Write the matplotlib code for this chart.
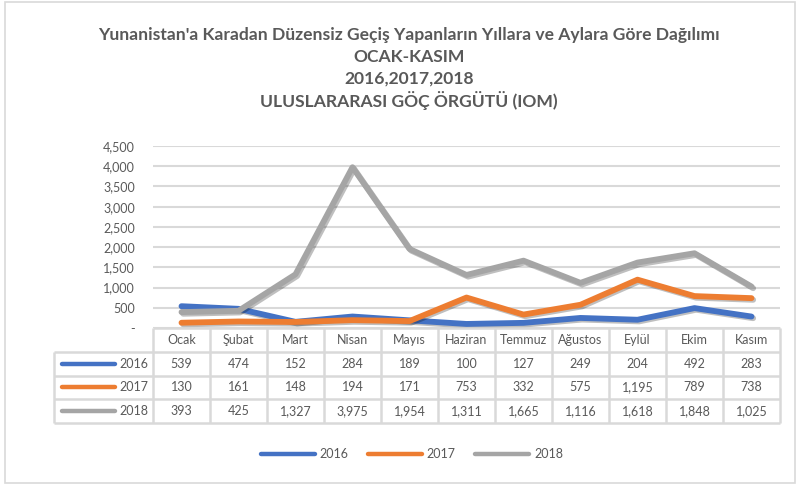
import matplotlib
matplotlib.use('Agg')
import matplotlib.pyplot as plt
import matplotlib.patheffects as pe
from matplotlib.lines import Line2D

months = ['Ocak', 'Şubat', 'Mart', 'Nisan', 'Mayıs', 'Haziran', 'Temmuz',
          'Ağustos', 'Eylül', 'Ekim', 'Kasım']
years = ['2016', '2017', '2018']
v2016 = [539, 474, 152, 284, 189, 100, 127, 249, 204, 492, 283]
v2017 = [130, 161, 148, 194, 171, 753, 332, 575, 1195, 789, 738]
v2018 = [393, 425, 1327, 3975, 1954, 1311, 1665, 1116, 1618, 1848, 1025]
series = [v2016, v2017, v2018]
colors = ['#4472C4', '#ED7D31', '#A5A5A5']

title_lines = ["Yunanistan'a Karadan Düzensiz Geçiş Yapanların Yıllara ve Aylara Göre Dağılımı",
               "OCAK-KASIM", "2016,2017,2018", "ULUSLARARASI GÖÇ ÖRGÜTÜ (IOM)"]

plt.rcParams['font.family'] = ['Lato', 'DejaVu Sans']
txt = '#595959'
grid = '#D9D9D9'

W, H = 799, 487
fig = plt.figure(figsize=(W / 100, H / 100), dpi=100)

# outer frame
fig.patches.append(plt.Rectangle((5 / W, 4 / H), 790 / W, 481 / H, transform=fig.transFigure,
                                 fill=False, edgecolor='#D9D9D9', lw=1.2))

# titles
for i, t in enumerate(title_lines):
    fig.text(409 / W, 1 - (35 + i * 21.7) / H, t, ha='center', va='center',
             fontsize=12.6, fontweight='bold', color=txt)

x0, x1 = 153, 780
ytop, ybot = 146, 328
ax = fig.add_axes([x0 / W, 1 - ybot / H, (x1 - x0) / W, (ybot - ytop) / H])
xs = list(range(len(months)))
shadow = [pe.SimpleLineShadow(offset=(1.2, -1.2), alpha=0.25, shadow_color='black'), pe.Normal()]
for vals, c in zip(series, colors):
    ax.plot(xs, vals, color=c, lw=4.2, solid_capstyle='round', solid_joinstyle='round',
            path_effects=shadow, zorder=3)
ax.set_xlim(-0.5, len(months) - 0.5)
ax.set_ylim(0, 4500)
ax.set_yticks(range(0, 4501, 500))
ax.set_yticklabels(['-'] + [f'{v:,}' for v in range(500, 4501, 500)])
ax.tick_params(axis='y', length=0, pad=13, labelsize=9, labelcolor=txt)
ax.set_xticks([])
ax.grid(axis='y', color=grid, lw=1.5)
ax.set_axisbelow(True)
for s in ax.spines.values():
    s.set_visible(False)

# data table
tx0, ttop, tbot = 54, 328, 423
col_w = (x1 - x0) / len(months)
left_units = (x0 - tx0) / col_w
tab = fig.add_axes([tx0 / W, 1 - tbot / H, (x1 - tx0) / W, (tbot - ttop) / H])
tab.set_xlim(-0.5 - left_units, len(months) - 0.5)
tab.set_ylim(0, 4)
tab.axis('off')
lk = dict(color=grid, lw=1.8, solid_capstyle='butt', clip_on=False)
xl = -0.5 - left_units
# horizontal lines
tab.plot([-0.5, len(months) - 0.5], [4, 4], **lk)
for yy in [0, 1, 2, 3]:
    tab.plot([xl, len(months) - 0.5], [yy, yy], **lk)
# vertical lines
for j in range(len(months) + 1):
    tab.plot([j - 0.5, j - 0.5], [0, 4], **lk)
tab.plot([xl, xl], [0, 3], **lk)
for j, m in enumerate(months):
    tab.text(j, 3.5, m, ha='center', va='center', fontsize=9, color=txt)
for i, (yr, vals, c) in enumerate(zip(years, series, colors)):
    yc = 2.5 - i
    tab.plot([xl + 8 / col_w, xl + 61 / col_w], [yc, yc], color=c, lw=3.2,
             solid_capstyle='round')
    tab.text(xl + 65 / col_w, yc, yr, ha='left', va='center', fontsize=9, color=txt)
    for j, v in enumerate(vals):
        tab.text(j, yc, f'{v:,}', ha='center', va='center', fontsize=9, color=txt)

# bottom legend
handles = [Line2D([], [], color=c, lw=3.2, solid_capstyle='round') for c in colors]
leg = fig.legend(handles, years, loc='center', bbox_to_anchor=(412 / W, 1 - 454 / H),
                 ncol=3, frameon=False, fontsize=9, handlelength=4.3, columnspacing=1.55,
                 handletextpad=0.4)
for t in leg.get_texts():
    t.set_color(txt)

fig.savefig('out.png', dpi=100)
